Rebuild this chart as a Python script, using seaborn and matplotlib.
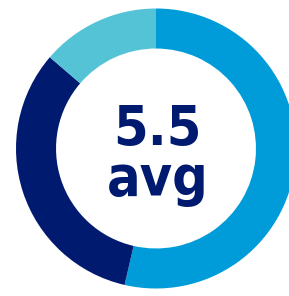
import matplotlib
matplotlib.use("Agg")
import matplotlib.pyplot as plt
import seaborn as sns

# Segment shares (clockwise from 12 o'clock)
labels = ["high", "mid", "low"]
shares = [53.6, 32.7, 13.7]
colors = ["#009cda", "#001a70", "#55c3d6"]
center_value = "5.5"
center_label = "avg"

sns.set_theme(style="white")
plt.rcParams["font.family"] = ["DejaVu Sans"]

fig = plt.figure(figsize=(2.89, 2.96), dpi=100)
ax = fig.add_axes([0, 0, 1, 1])
ax.pie(shares, colors=colors, startangle=90, counterclock=False,
       wedgeprops=dict(width=0.286, edgecolor="none"))

# map data units so the ring sits where it does in the picture
ax.set_xlim(-156 / 140, (289 - 156) / 140)
ax.set_ylim(-(296 - 148.5) / 140, 148.5 / 140)
ax.set_aspect("auto")
ax.axis("off")

ax.text(0.01, 0.025, center_value, ha="center", va="baseline",
        fontsize=40, fontweight="bold", color="#001a70", fontstretch="condensed")
ax.text(0.01, -0.332, center_label, ha="center", va="baseline",
        fontsize=40, fontweight="bold", color="#001a70", fontstretch="condensed")

fig.savefig("out.png", dpi=100)
